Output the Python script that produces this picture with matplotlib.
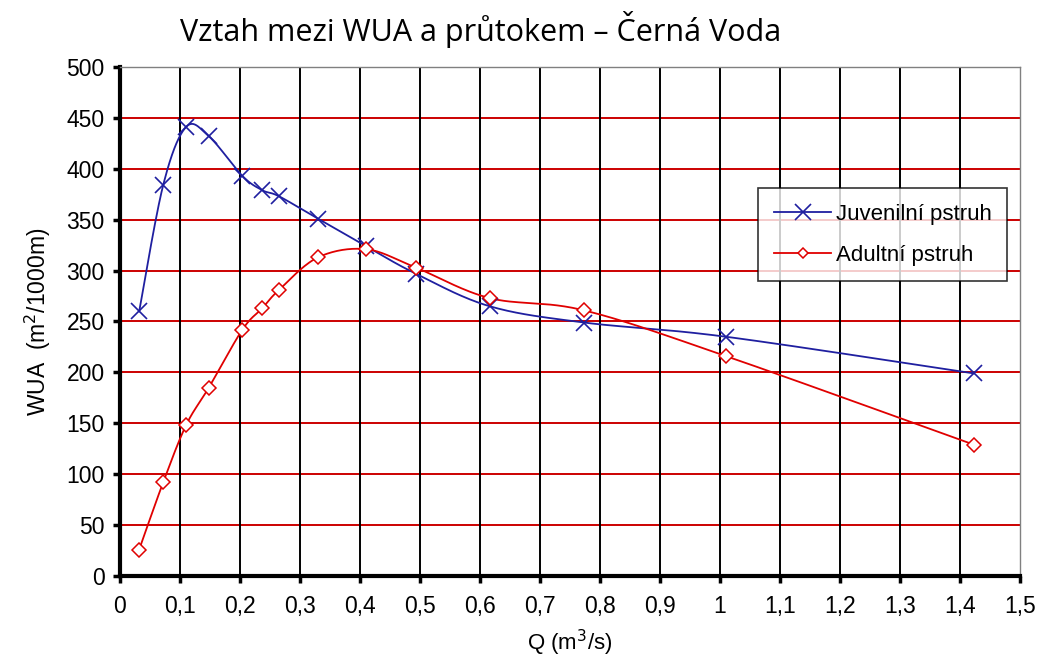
import numpy as np
import matplotlib
matplotlib.use("Agg")
import matplotlib.pyplot as plt
from matplotlib.lines import Line2D

# ──────────────────────────────────────────────────────────────
# Data
# ──────────────────────────────────────────────────────────────
q = [0.032, 0.072, 0.11, 0.148, 0.204, 0.237, 0.265, 0.33, 0.41, 0.493,
     0.616, 0.773, 1.01, 1.423]
wua_juv = [260, 384, 441, 432, 393, 379, 373, 351, 324, 297, 265, 249, 235, 199]
wua_adult = [26, 92, 148, 185, 242, 263, 281, 313, 321, 303, 273, 261, 216, 129]
x_ticks = [round(0.1 * i, 1) for i in range(16)]
x_labels = ["0", "0,1", "0,2", "0,3", "0,4", "0,5", "0,6", "0,7", "0,8", "0,9",
            "1", "1,1", "1,2", "1,3", "1,4", "1,5"]
y_ticks = list(range(0, 501, 50))

BLUE = "#1f1fa0"
RED = "#e00000"
SANS = ["Liberation Sans", "DejaVu Sans"]


def excel_smooth(xs, ys, sx=600.0, sy=1.018, n=30):
    """Excel-style smoothed line (Bezier with 1/6 tangents) in screen units."""
    p = np.column_stack([np.asarray(xs) * sx, np.asarray(ys) * sy])
    pts = [p[0]]
    for i in range(len(p) - 1):
        p0 = p[i - 1] if i > 0 else p[i]
        p3 = p[i + 2] if i + 2 < len(p) else p[i + 1]
        c1 = p[i] + (p[i + 1] - p0) / 6.0
        c2 = p[i + 1] - (p3 - p[i]) / 6.0
        t = np.linspace(0, 1, n)[1:, None]
        seg = ((1 - t) ** 3 * p[i] + 3 * (1 - t) ** 2 * t * c1
               + 3 * (1 - t) * t ** 2 * c2 + t ** 3 * p[i + 1])
        pts.extend(seg)
    pts = np.array(pts)
    return pts[:, 0] / sx, pts[:, 1] / sy


fig = plt.figure(figsize=(10.38, 6.6), dpi=100)
ax = fig.add_axes([0.1156, 0.1273, 0.8671, 0.7712])

# grid
for yv in y_ticks[1:-1]:
    ax.axhline(yv, color="#cc0000", lw=1.4, zorder=1)
for xv in x_ticks[1:-1]:
    ax.axvline(xv, color="black", lw=1.4, zorder=1)

sx, sy = excel_smooth(q, wua_juv)
ax.plot(sx, sy, color=BLUE, lw=1.3, zorder=3)
ax.plot(q, wua_juv, ls="none", marker="x", ms=11, mew=1.2, color=BLUE, zorder=4)

sx, sy = excel_smooth(q, wua_adult)
ax.plot(sx, sy, color=RED, lw=1.3, zorder=3)
ax.plot(q, wua_adult, ls="none", marker="D", ms=7, mew=1.1, mfc="white",
        mec=RED, zorder=4)

ax.set_xlim(0, 1.5)
ax.set_ylim(0, 500)
ax.set_xticks(x_ticks)
ax.set_xticklabels(x_labels, family=SANS, fontsize=16.5)
ax.set_yticks(y_ticks)
ax.set_yticklabels([str(v) for v in y_ticks], family=SANS, fontsize=16.5)
ax.tick_params(axis="both", direction="out", length=5, width=2.5, color="black")
ax.tick_params(axis="x", pad=9)
ax.tick_params(axis="y", pad=6)

for side in ("left", "bottom"):
    ax.spines[side].set_linewidth(3)
    ax.spines[side].set_color("black")
for side in ("top", "right"):
    ax.spines[side].set_linewidth(1)
    ax.spines[side].set_color("#808080")

ax.set_xlabel("Q (m$^3$/s)", family=SANS, fontsize=16, labelpad=7)
ax.set_ylabel("WUA  (m$^2$/1000m)", family=SANS, fontsize=16.5, labelpad=10)

fig.text(0.4635, 0.955, "Vztah mezi WUA a průtokem – Černá Voda",
         ha="center", va="center", fontsize=22, family=["Open Sans", "DejaVu Sans"])

handles = [
    Line2D([], [], color=BLUE, lw=1.3, marker="x", ms=11, mew=1.2),
    Line2D([], [], color=RED, lw=1.3, marker="D", ms=5, mew=1.1,
           mfc="white", mec=RED),
]
leg = ax.legend(handles, ["Juvenilní pstruh", "Adultní pstruh"],
                loc="upper left", bbox_to_anchor=(0.709, 0.762),
                prop={"family": SANS, "size": 16}, frameon=True, fancybox=False,
                edgecolor="black", handlelength=2.6, handletextpad=0.2,
                labelspacing=0.9, borderpad=0.7, borderaxespad=0)
leg.get_frame().set_linewidth(1.2)
leg.set_zorder(5)

fig.savefig("out.png", dpi=100)
